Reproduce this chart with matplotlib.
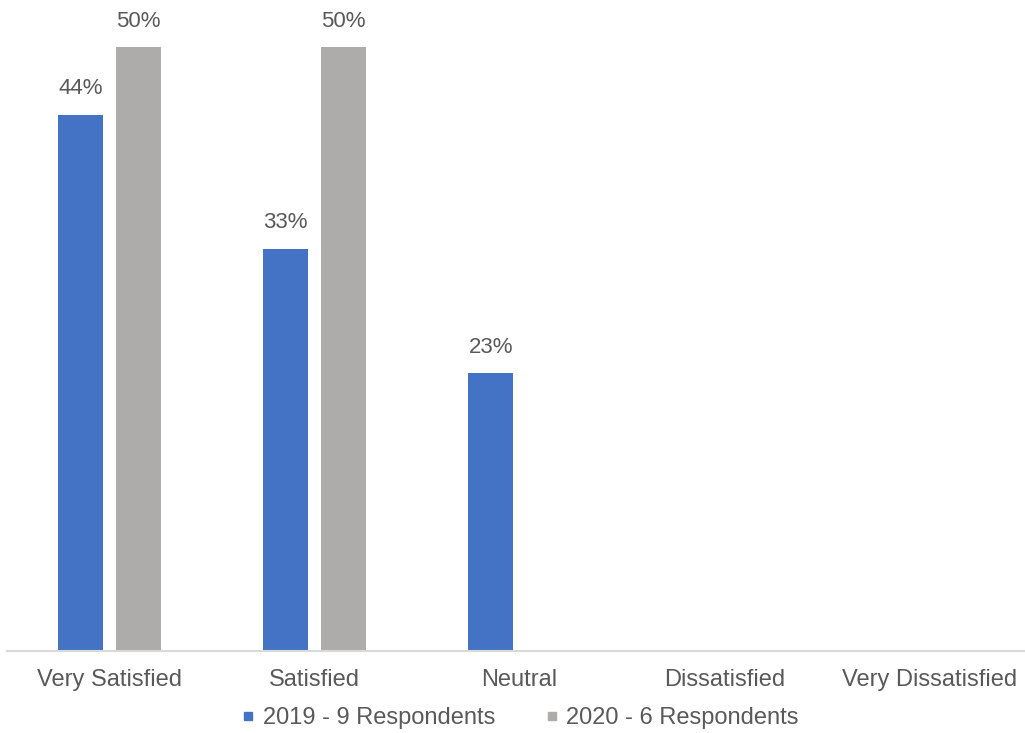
import matplotlib.pyplot as plt
from matplotlib.lines import Line2D
import numpy as np

plt.rcParams['font.family'] = ['Liberation Sans', 'DejaVu Sans']

categories = ["Very Satisfied", "Satisfied", "Neutral", "Dissatisfied", "Very Dissatisfied"]
vals2019 = [44.4, 33.3, 23.0, 0, 0]
vals2020 = [50.0, 50.0, 0, 0, 0]
labels2019 = ["44%", "33%", "23%", "", ""]
labels2020 = ["50%", "50%", "", "", ""]
series_names = ["2019 - 9 Respondents", "2020 - 6 Respondents"]

blue = "#4472C4"
grey = "#AEABAB"
txt = "#595959"

fig = plt.figure(figsize=(10.25, 7.33), dpi=100)
ax = fig.add_axes([7/1025, 82/733, 1025/1025, 604/733])

x = np.arange(len(categories))
w = 0.22
off = 0.14
b1 = ax.bar(x - off, vals2019, w, color=blue)
b2 = ax.bar(x + off, vals2020, w, color=grey)

for bars, labs in [(b1, labels2019), (b2, labels2020)]:
    for rect, lab in zip(bars, labs):
        if lab:
            ax.annotate(lab, (rect.get_x() + rect.get_width()/2, rect.get_height()),
                        xytext=(0, 11), textcoords="offset points",
                        ha="center", va="bottom", fontsize=16, color=txt,
                        annotation_clip=False)

ax.set_xlim(-0.5, 4.5)
ax.set_ylim(0, 50)
ax.set_xticks(x)
ax.set_xticklabels(categories, fontsize=17, color=txt)
ax.tick_params(axis="x", length=0, pad=13)
ax.set_yticks([])
for s in ["top", "right", "left"]:
    ax.spines[s].set_visible(False)
ax.spines["bottom"].set_color("#D9D9D9")
ax.spines["bottom"].set_linewidth(1.5)

handles = [Line2D([], [], marker="s", linestyle="", color=blue, markersize=6),
           Line2D([], [], marker="s", linestyle="", color=grey, markersize=6)]
leg = fig.legend(handles, series_names, loc="center", bbox_to_anchor=(521/1025, 1 - 718/733),
                 ncol=2, frameon=False, fontsize=17, handlelength=0.4, handletextpad=0.4,
                 columnspacing=2.2)
for t in leg.get_texts():
    t.set_color(txt)

fig.savefig("out.png", dpi=100)
